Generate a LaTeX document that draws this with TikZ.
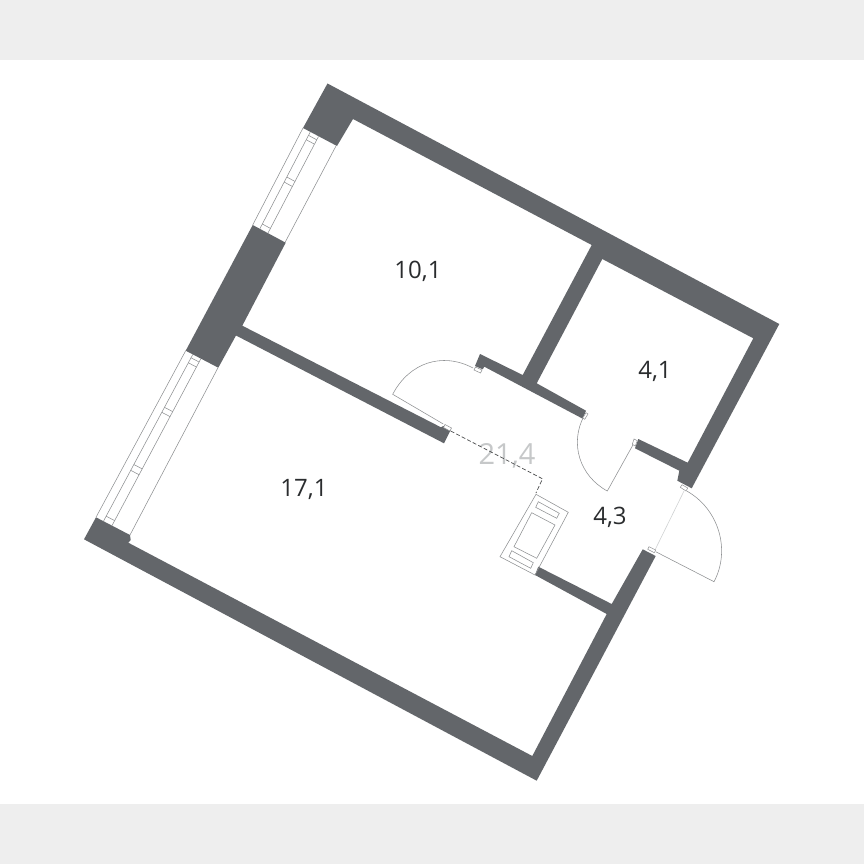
\documentclass[tikz,border=0pt]{standalone}
\usepackage{fontspec}
\setmainfont{Open Sans}
\usetikzlibrary{calc}
\definecolor{wallc}{HTML}{63666A}
\definecolor{bandc}{HTML}{EEEEEE}
\definecolor{linec}{HTML}{8E9092}
\definecolor{lightc}{HTML}{D0D2D3}
\definecolor{areac}{HTML}{C6C8C9}
\definecolor{textc}{HTML}{2A2C2E}
\tikzset{
  wall/.style={fill=wallc,draw=none},
  thin line/.style={draw=linec,line width=0.55pt,fill=none},
  jamb/.style={draw=linec,line width=0.5pt,fill=white},
  room/.style={font=\fontsize{24}{24}\selectfont,text=textc,inner sep=0pt},
  total/.style={font=\fontsize{29}{29}\selectfont,text=areac,inner sep=0pt},
  zone/.style={draw=textc!85!white,line width=0.7pt,dash pattern=on 4pt off 2.2pt}
}
\begin{document}
\begin{tikzpicture}[x=1pt,y=-1pt]
\useasboundingbox (0,0) rectangle (864,864);
\fill[white] (0,0) rectangle (864,864);
\fill[bandc] (0,0) rectangle (864,60);
\fill[bandc] (0,804) rectangle (864,864);
% walls
\fill[wall] (327.5,83.5) -- (779.3,324) -- (691.7,488.3) -- (677.3,480.7) -- (679.3,470.7) -- (635,448.3) -- (638.3,439) -- (687.7,462.7) -- (753.3,338.3) -- (602.3,259) -- (536.7,383.3) -- (586,410.7) -- (582.7,418.7) -- (484.3,366.7) -- (482.7,369.3) -- (475,366) -- (480,354) -- (522.7,375) -- (591.7,245) -- (353,119) -- (337,146) -- (303,128) -- cycle;
\fill[wall] (252.7,225) -- (285.7,242.7) -- (242.3,325.7) -- (441,427.3) -- (443.3,426) -- (450.7,430) -- (444,443.3) -- (236,335.5) -- (218.3,367.7) -- (185.7,350.7) -- cycle;
\fill[wall] (96,517.3) -- (130,535) -- (130.7,540) -- (128.3,542.7) -- (532.3,756) -- (606.7,614) -- (535,575) -- (538.3,566.7) -- (611.7,604) -- (642.7,549.3) -- (655.7,556) -- (536.7,780.7) -- (84,539.3) -- cycle;
% windows
\coordinate (ua) at (303,128); \coordinate (ub) at (336,146);
\coordinate (uc) at (252.7,225); \coordinate (ud) at (285,242.5);
\coordinate (la) at (185.7,350.7); \coordinate (lb) at (218,367.7);
\coordinate (lc) at (96,517.3); \coordinate (ld) at (130,535);
\draw[thin line] (ua) -- (uc) (ub) -- (ud) (la) -- (lc) (lb) -- (ld);
\draw[thin line] ($(ua)!.22!(ub)$) -- ($(uc)!.22!(ud)$) ($(ua)!.47!(ub)$) -- ($(uc)!.47!(ud)$);
\draw[thin line] ($(la)!.22!(lb)$) -- ($(lc)!.22!(ld)$) ($(la)!.47!(lb)$) -- ($(lc)!.47!(ld)$);
\foreach \t in {.035,.08,.465,.517,.95}
  \draw[thin line] ($($(ua)!\t!(uc)$)!.22!($(ub)!\t!(ud)$)$) -- ($($(ua)!\t!(uc)$)!.47!($(ub)!\t!(ud)$)$);
\foreach \t in {.02,.05,.317,.347,.66,.695,.97}
  \draw[thin line] ($($(la)!\t!(lc)$)!.22!($(lb)!\t!(ld)$)$) -- ($($(la)!\t!(lc)$)!.47!($(lb)!\t!(ld)$)$);
% doors
\draw[thin line] (443.3,424) -- (392.7,394.3) .. controls (409,363) and (442,351.5) .. (473,368);
\draw[thin line] (634,443) -- (607.3,491) .. controls (579.6,476) and (569.4,443.4) .. (584,416);
\draw[thin line] (655.7,551.7) -- (714,581.7) .. controls (731,549.7) and (718.5,508.7) .. (686.7,491);
\draw[draw=lightc,line width=0.6pt] (684,491) -- (654,552);
% jambs
\draw[jamb] (445,424.5) -- (451.5,428) -- (450,431) -- (443.5,427.5) -- cycle;
\draw[jamb] (475.5,367) -- (482,370) -- (480.5,373) -- (474,370) -- cycle;
\draw[jamb] (586,412.7) -- (588,414) -- (584.7,419.3) -- (582.7,418) -- cycle;
\draw[jamb] (634,439) -- (637.3,440.7) -- (635.3,446) -- (632.3,444.3) -- cycle;
\draw[jamb] (680.3,487.3) -- (682,484.7) -- (687.7,488) -- (686,491) -- cycle;
\draw[jamb] (647.7,549.3) -- (649,546.7) -- (655.7,550) -- (654.3,552.7) -- cycle;
% appliance
\draw[thin line] (536,494.3) -- (568.3,512.3) -- (535,575) -- (500,556.7) -- cycle;
\draw[thin line] (531.7,512.7) -- (555,525) -- (536.7,558.3) -- (514,546.7) -- cycle;
\draw[thin line] (538.3,501.7) -- (559.3,513.3) -- (556.7,518.3) -- (535.7,507.3) -- cycle;
\draw[thin line] (511.7,550.7) -- (533.3,562.7) -- (530.7,568.3) -- (509,556.7) -- cycle;
% labels
\node[room] (r1) at (418,271) {10,1};
\node[room] (r2) at (655,371) {4,1};
\node[room] (r3) at (304,489) {17,1};
\node[room] (r4) at (610,517) {4,3};
\node[total] (r5) at (507,456) {21,4};
% zone boundary
\draw[zone] (450.7,431) -- (542.5,478.8) -- (536,493);
\end{tikzpicture}
\end{document}
